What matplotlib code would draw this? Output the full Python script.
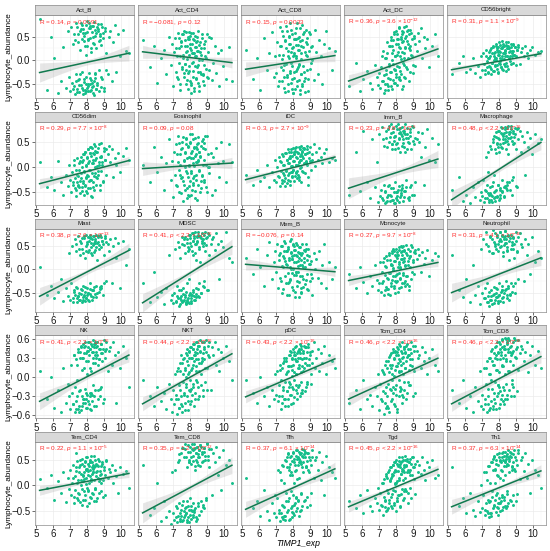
import numpy as np
import matplotlib
import matplotlib.pyplot as plt

matplotlib.use('Agg')

plt.rcParams['font.family'] = ['Liberation Sans', 'DejaVu Sans']
plt.rcParams['mathtext.fontset'] = 'custom'
plt.rcParams['mathtext.rm'] = 'Liberation Sans'
plt.rcParams['mathtext.it'] = 'Liberation Sans:italic'

# TIMP1 expression, one value per sample (same samples in every panel)
timp1_exp = [5.22, 5.63, 5.91, 6.08, 6.31, 6.47, 6.62, 6.79, 6.88, 6.97,
             7.03, 7.09, 7.14, 7.19, 7.24, 7.29, 7.33, 7.36, 7.38, 7.43,
             7.47, 7.52, 7.56, 7.61, 7.64, 7.68, 7.71, 7.74, 7.78, 7.81,
             7.85, 7.88, 7.91, 7.94, 7.97, 7.99, 8.01, 8.04, 8.07, 8.11,
             8.14, 8.17, 8.19, 8.21, 8.24, 8.27, 8.31, 8.34, 8.38, 8.41,
             8.44, 8.46, 8.48, 8.52, 8.55, 8.59, 8.63, 8.67, 8.71, 8.76,
             8.81, 8.84, 8.86, 8.92, 8.97, 9.03, 9.08, 9.15, 9.22, 9.29,
             9.37, 9.46, 9.55, 9.64, 9.73, 9.84, 9.96, 10.12, 10.31, 10.48,
             # core samples
             7.21, 7.27, 7.34, 7.41, 7.45, 7.50, 7.54, 7.58, 7.62, 7.66,
             7.70, 7.73, 7.76, 7.80, 7.83, 7.86, 7.89, 7.92, 7.95, 7.98,
             8.02, 8.05, 8.08, 8.10, 8.13, 8.16, 8.18, 8.22, 8.25, 8.28,
             8.30, 8.33, 8.36, 8.39, 8.42, 8.45, 8.49, 8.51, 8.54, 8.57,
             8.61, 8.65, 8.69, 8.73, 8.78, 8.83, 8.88, 8.94, 9.00, 9.06,
             7.48, 7.79, 7.93, 8.06, 8.20, 8.35, 8.50, 8.64, 8.80, 9.12]

cell_types = ['Act_B', 'Act_CD4', 'Act_CD8', 'Act_DC', 'CD56bright',
              'CD56dim', 'Eosinophil', 'iDC', 'Imm_B', 'Macrophage',
              'Mast', 'MDSC', 'Mem_B', 'Monocyte', 'Neutrophil',
              'NK', 'NKT', 'pDC', 'Tcm_CD4', 'Tcm_CD8',
              'Tem_CD4', 'Tem_CD8', 'Tfh', 'Tgd', 'Th1']

r_values = ['0.14', '\u22120.081', '0.15', '0.36', '0.31',
            '0.29', '0.09', '0.3', '0.23', '0.48',
            '0.38', '0.41', '\u22120.076', '0.27', '0.31',
            '0.41', '0.44', '0.43', '0.46', '0.46',
            '0.22', '0.35', '0.37', '0.45', '0.37']
p_values = ['= 0.0091', '= 0.12', '= 0.0033', '= 3.6 \u00d7 10$^{-12}$', '= 1.1 \u00d7 10$^{-9}$',
            '= 7.7 \u00d7 10$^{-8}$', '= 0.08', '= 2.7 \u00d7 10$^{-9}$', '= 4.8 \u00d7 10$^{-6}$', '< 2.2 \u00d7 10$^{-16}$',
            '= 2.6 \u00d7 10$^{-13}$', '< 2.2 \u00d7 10$^{-16}$', '= 0.14', '= 9.7 \u00d7 10$^{-8}$', '= 4.1 \u00d7 10$^{-10}$',
            '< 2.2 \u00d7 10$^{-16}$', '< 2.2 \u00d7 10$^{-16}$', '< 2.2 \u00d7 10$^{-16}$', '< 2.2 \u00d7 10$^{-16}$', '< 2.2 \u00d7 10$^{-16}$',
            '= 1.1 \u00d7 10$^{-5}$', '= 1.2 \u00d7 10$^{-12}$', '= 6.1 \u00d7 10$^{-14}$', '< 2.2 \u00d7 10$^{-16}$', '= 6.3 \u00d7 10$^{-14}$']

# fitted line read at the lowest and highest TIMP1 value
fit_low = [-0.26, 0.18, -0.19, -0.44, -0.20,
           -0.33, -0.03, -0.25, -0.42, -0.65,
           -0.58, -0.72, 0.11, -0.24, -0.50,
           -0.38, -0.42, -0.31, -0.345, -0.42,
           -0.10, -0.54, -0.47, -0.42, -0.42]
fit_high = [0.15, -0.05, 0.10, 0.24, 0.14,
            0.13, 0.08, 0.20, 0.16, 0.49,
            0.41, 0.49, -0.05, 0.15, 0.25,
            0.35, 0.37, 0.29, 0.30, 0.325,
            0.23, 0.39, 0.32, 0.31, 0.28]

row_ylims = [(-0.80, 0.96), (-0.75, 0.90), (-0.91, 0.88), (-0.65, 0.66), (-0.78, 0.84)]
row_yticks = [[-0.5, 0.0, 0.5], [-0.5, 0.0, 0.5], [-0.5, 0.0, 0.5],
              [-0.6, -0.3, 0.0, 0.3, 0.6], [-0.5, 0.0, 0.5]]
n_samples = 345

# lymphocyte abundance per cell type, in hundredths
act_b = [88, -62, 50, 5, -70, -45, 28, -58, 62, -35,
         -66, 71, -48, 35, -55, -72, 44, -30, 80, -60,
         55, -40, -68, 22, 66, -52, -25, 75, -63, 40,
         -46, 58, -70, 12, -35, 84, -58, 30, -50, 68,
         -28, 47, -65, 72, -42, 18, 60, -55, 36, -74,
         82, -38, 52, -60, 25, 70, -48, 63, -20, 44,
         -56, 76, 33, -40, 58, -66, 69, 15, -30, 50,
         62, -45, 38, 75, -25, 55, 10, 65, 20, 15,
         -60, 55, -45, 70, -68, 38, -52, 62, -30, 78,
         -58, 45, -72, 66, -40, 52, -64, 30, 74, -50,
         60, -66, 42, -55, 80, -38, 68, -62, 25, -48,
         72, -56, 50, -70, 35, -44, 64, -26, 58, -60,
         -52, 76, 40, -65, 55, -35, 70, 48, -58, 62,
         -42, 58, -66, 45, -50, 72, -30, 66, 52, -20]
act_cd4 = [42, -15, 30, -48, 5, 22, -30, 50, -10, 35,
           -55, 18, 48, -25, 8, 58, -40, 27, -5, -62,
           40, -18, 55, 12, -35, 62, -8, 30, -50, 20,
           3, 45, -28, 60, -12, 25, -45, 52, -70, 15,
           35, -22, 58, -3, -58, 42, 10, -38, 28, -15,
           50, -48, 20, 0, -65, 38, -25, 12, 55, -32,
           25, -10, -52, 40, 5, -35, 18, -20, 48, -42,
           -5, 30, -28, 15, -55, 22, -12, -40, 28, -45,
           25, -35, 48, 10, -50, 38, -15, 55, 5, -28,
           42, -8, 60, 18, -42, 30, -60, 50, 12, -22,
           35, -48, 22, 58, -5, -35, 45, 15, -65, 28,
           -12, 52, 8, -40, 40, 20, -25, 62, -55, 32,
           18, -30, 48, 0, -45, 35, 10, -18, 55, -38,
           30, -20, 45, -52, 15, 38, -10, 25, -30, 50]
act_cd8 = [22, -40, 5, -62, 48, -20, 15, 60, -35, 10,
           -28, 38, -55, 12, 70, -15, 30, -45, 2, 52,
           -10, 44, -68, 25, -32, 62, 8, -50, 35, -22,
           78, -5, 18, -40, 55, -70, 28, 10, -25, 45,
           -60, 33, 5, 68, -18, -45, 22, 50, -8, -72,
           40, -30, 15, 75, -55, 28, -12, 60, -38, 12,
           48, -20, 35, -65, 20, 55, -5, 30, -42, 65,
           18, -30, 42, 10, -50, 35, 62, 25, -20, 20,
           -45, 30, 62, -20, 12, -58, 40, -8, 72, -35,
           20, -65, 50, 5, -28, 35, -48, 65, -12, 25,
           -70, 45, 15, -38, 58, -22, 8, -55, 80, 32,
           -15, 48, -42, 22, -62, 68, 2, -30, 42, -50,
           55, -25, 18, -68, 38, 10, -40, 60, -18, 28,
           -35, 52, -60, 12, 45, -10, 30, -45, 65, 0]
act_dc = [-55, -5, -65, -40, -22, -48, -60, -10, -35, -52,
          -28, -58, -15, 10, -45, -70, -32, 5, -50, -20,
          15, -38, -62, -8, 30, -25, 42, -55, 0, -42,
          22, -18, 55, -48, 8, 35, -30, 62, -12, 18,
          45, -40, 28, 70, -22, 10, 50, -60, 38, -5,
          60, 15, -35, 48, 25, 72, -15, 40, 5, 55,
          30, -25, 65, 12, 45, -10, 52, 35, 20, 58,
          40, 68, 5, 50, 25, 45, -15, 30, 55, 10,
          -45, 20, -62, 5, -30, 38, -55, -12, 30, -40,
          50, -25, -60, 15, -8, 42, -48, 60, -20, 8,
          -35, 55, 12, -52, 35, -15, 68, -42, 25, 2,
          45, -30, 62, 18, -55, 40, -10, 70, -38, 28,
          52, -18, 35, 65, -45, 22, 58, 10, -28, 48,
          -50, 30, -20, 45, -35, 55, 5, 62, 25, -12]
cd56bright = [-30, -5, 10, -25, -18, 5, -28, -12, -35, 8,
              -20, 15, -8, -30, 22, -2, -15, 5, -25, 18,
              10, -18, 25, -5, 30, -22, 0, 15, -12, 35,
              5, 22, -10, 28, -28, 12, 38, -5, 18, -15,
              25, 2, 40, -18, 15, 30, -8, 20, 8, -22,
              32, 10, -12, 25, 38, 5, 18, -2, 28, 15,
              20, 35, -5, 12, 28, 8, 22, 32, -8, 18,
              25, 10, 30, 15, 5, 22, 28, 12, 18, 20,
              -20, 10, -28, 5, -12, 22, -30, 15, -5, 28,
              8, -22, 18, -10, 30, 0, -18, 25, 12, -25,
              20, -8, 32, 5, -15, 28, 10, -20, 35, 2,
              15, 30, -12, 22, 38, -5, 25, 8, -18, 30,
              25, 10, 35, -8, 20, 32, 12, 28, -10, 22,
              -15, 5, 18, -2, 25, 15, 30, 20, 8, 28]
cd56dim = [10, -40, -20, -45, 12, -30, -55, -15, -38, 5,
           -25, -50, -10, -35, 15, -42, -22, -58, -5, -30,
           -18, 8, -40, -28, 20, -12, -48, 0, -32, 25,
           -8, -38, 30, -20, 5, -52, 18, -15, 35, -28,
           12, -42, 40, -5, -25, 22, -60, 8, 28, -18,
           45, -12, 15, -35, 30, 2, -22, 38, 10, -45,
           20, -8, 48, 5, -30, 32, 15, -15, 25, 42,
           10, 35, -20, 18, 5, 28, -10, 22, 38, 15,
           -30, 5, -45, -15, 18, -38, -5, -52, 12, -22,
           -40, 10, -28, 25, -55, -10, 30, -35, 2, -48,
           20, -18, 35, -42, -5, 28, -25, 40, -58, 8,
           -12, 38, -30, 15, -45, 25, 0, 42, -20, 18,
           30, -15, 45, 5, -35, 22, 10, -28, 38, 15,
           -35, 15, -22, 8, 28, -40, 32, -8, 20, 35]
eosinophil = [5, -30, 40, -10, 20, -45, 8, 55, -25, 12,
              -60, 30, -15, 45, -38, 10, 62, -5, -50, 25,
              35, -20, 50, -68, 15, -35, 28, 0, 58, -42,
              -12, 40, -55, 20, 5, 48, -28, 65, -8, 32,
              -45, 18, 55, -22, 2, 38, -62, 25, -15, 45,
              10, -35, 60, -8, 30, -50, 22, 42, -18, 5,
              48, -25, 15, 35, -40, 62, 0, -12, 28, -55,
              20, -45, 38, 8, -20, 50, 12, -30, 45, 10,
              -35, 25, 48, -15, 5, -52, 38, -28, 60, 12,
              -45, 30, -8, 55, -62, 18, 42, -20, 2, -38,
              50, -12, 28, -55, 65, 8, -32, 40, -18, 22,
              -48, 58, 10, -25, 35, -65, 15, 48, -5, 30,
              20, -42, 52, -15, 38, -30, 62, 5, -50, 25,
              -22, 45, -58, 18, -35, 40, 12, -28, 55, 0]
idc = [-15, -35, -5, -28, -20, 5, -40, -10, -25, 15,
       -30, 0, -18, 20, -38, -8, 10, -25, 25, -12,
       5, -22, 28, -5, -32, 15, 35, -15, 8, -28,
       22, -10, 30, 2, -20, 38, 12, -5, 25, -18,
       32, 5, -12, 40, 18, -8, 28, 10, -25, 35,
       15, 42, 0, 22, 30, -10, 38, 8, 25, 12,
       35, 5, 28, -35, 18, 40, 12, 25, 45, 2,
       30, 15, 38, 20, 8, 28, 35, 10, 18, 15,
       -20, 12, -32, 5, 22, -15, -38, 28, -8, 15,
       8, -25, 30, -12, 18, -35, 2, 35, -18, 22,
       -5, 25, -28, 12, 38, -10, 20, -22, 30, 5,
       28, -15, 10, 40, -2, 22, -30, 15, 32, -8,
       18, 35, -12, 25, 8, 42, -20, 30, 12, -5,
       -28, 18, -10, 30, 5, -20, 25, 38, 10, 15]
imm_b = [-55, 30, -48, 72, -30, -62, 55, -40, 10, -70,
         65, -58, -45, 80, -66, -35, 42, -72, -50, 58,
         -60, 75, -38, 50, -68, -55, 85, -42, 35, -65,
         70, -50, 60, -72, -30, 45, -62, 82, -58, 38,
         -45, 68, 55, -70, 30, 78, -52, 62, -35, 48,
         72, -60, 40, 85, -48, 58, -25, 66, 50, -65,
         62, -40, 75, 35, -55, 80, 45, -30, 55, 70,
         50, 20, 68, -35, 40, 75, 15, 58, 10, 45,
         -62, 55, -48, 72, -70, 40, -55, 82, -35, 60,
         68, -58, 45, -66, 78, -42, 52, -72, 35, 62,
         -50, 75, -65, 48, 85, -38, 58, -60, 70, -45,
         65, -55, 80, 42, -68, 55, 72, -48, 30, 66,
         -40, 78, 58, -62, 48, 70, -35, 82, 52, -55,
         -68, 45, 62, -50, 75, -42, 68, 35, -60, 58]
macrophage = [-45, -20, -68, -55, -72, -40, -60, -30, -65, -50,
              -58, -25, -70, -45, 20, -62, -35, -52, -10, -66,
              -40, 35, -55, -70, -30, 50, -62, -15, -48, 28,
              60, -58, 45, -35, 72, -65, 30, 55, -42, 68,
              40, -50, 78, -25, 62, 48, -60, 80, -38, 35,
              70, 52, -45, 82, 25, 66, -30, 58, 75, -55,
              45, 68, -20, 60, 78, 35, -40, 55, 72, 30,
              62, 50, -15, 70, 40, 58, 25, 65, 48, 55,
              -62, -48, 30, -70, -55, 42, -66, -38, -58, 55,
              -50, 62, -68, 35, -45, 70, -60, 48, -35, 58,
              72, -55, 45, -62, 80, 38, -48, 66, 55, -40,
              68, -58, 75, 50, -42, 62, 78, -30, 58, 45,
              70, -45, 82, 60, -25, 72, 48, 65, -38, 76,
              -52, -60, 40, -45, 65, 55, -35, 70, 52, 78]
mast = [5, -55, -35, -62, -48, -20, -68, -40, -58, 35,
        -65, -30, 50, -70, -45, 65, -55, -38, 40, -62,
        72, -50, -66, 30, -42, 58, -70, 45, -35, -58,
        68, -48, 25, -62, 75, -40, 55, -55, 38, -68,
        62, -30, 70, -52, 48, 35, -65, 72, -45, 58,
        -38, 66, 42, -60, 75, 20, -50, 60, 52, -42,
        70, -35, 48, 62, -55, 30, 72, -25, 55, 40,
        65, -30, 50, 68, 25, 58, -40, 62, 10, 45,
        -62, -48, 55, -70, -40, -58, 45, -66, 62, -52,
        -45, 68, -60, 35, -55, 72, -68, -38, 50, -62,
        60, -50, 70, -65, 42, -42, 75, 58, -58, 30,
        65, -45, 52, -60, 72, 38, -52, 62, 48, -35,
        58, 70, -48, 45, 75, -40, 62, 55, -30, 68,
        -58, -65, 40, -50, 68, -45, 58, 72, -38, 60]
mdsc = [-30, -70, -5, -60, -48, -75, -40, 30, -65, -55,
        -72, -50, 45, -68, -35, -62, 60, -78, -45, 25,
        -58, 70, -70, -40, 52, -66, -55, 35, -75, -30,
        65, -62, 48, -72, -20, 75, -50, 58, -68, 40,
        -55, 78, 30, -45, 68, -65, 55, 20, -40, 72,
        60, -58, 80, 45, -30, 70, 15, -50, 62, 50,
        75, -25, 58, 40, 68, -45, 78, 30, 55, 65,
        70, 42, 78, 55, -20, 62, 48, 80, 25, 15,
        -70, -58, 48, -75, -62, -45, 55, -68, -52, 65,
        -60, 70, -72, -48, 58, -65, 40, -70, 75, -55,
        68, -62, 50, -72, 78, -48, 62, -58, 72, 35,
        -65, 80, 55, -52, 70, 62, -42, 75, 48, -60,
        72, -50, 78, 58, 65, -38, 80, 52, 70, -45,
        -66, -70, 45, -55, 62, -60, 72, 68, -35, 75]
mem_b = [25, -10, 45, 5, -35, 30, 60, -20, 15, 40,
         -5, 55, -40, 20, 35, -25, 50, 8, -50, 28,
         62, -15, 18, 40, -55, 10, 48, -30, 25, 5,
         -20, 38, 65, -8, 22, -45, 52, 0, 30, -60,
         42, -12, 15, 58, -35, 28, -5, 48, -28, 10,
         35, -48, 20, -15, 55, 5, -38, 25, 40, -22,
         -10, 30, -42, 45, 12, -25, 18, -55, 35, 0,
         22, -18, 40, -30, 10, 55, -40, 15, -20, 5,
         32, -18, 50, 5, -42, 25, 58, -30, 12, 40,
         -8, 45, -55, 20, 62, -22, 35, 0, -38, 28,
         55, -12, 15, 42, -48, 30, -5, 52, -25, 18,
         8, 38, -60, 25, 48, -15, 30, -40, 10, 35,
         -20, 42, 5, -32, 55, 20, -45, 28, 12, -10,
         40, -28, 22, 50, -5, 35, -50, 15, 45, -18]
monocyte = [-10, -40, 5, -28, -50, -15, -35, 10, -22, -45,
            -30, 15, -48, -5, -25, 25, -55, -12, 8, -38,
            20, -20, -42, 30, -8, -55, 12, -30, 35, -15,
            -2, 40, -35, 18, -50, 28, -12, 45, -25, 5,
            32, -40, 15, 48, -18, 2, 38, -30, 22, 50,
            -8, 42, 25, -35, 10, 52, -15, 30, 18, -45,
            40, 5, 28, -20, 48, 15, -10, 35, 22, 45,
            30, -5, 38, 12, 25, 42, -15, 20, 35, 28,
            -30, 15, -45, 5, 28, -18, -52, 35, -8, 20,
            10, -35, 40, -22, 2, 45, -40, 18, -15, 30,
            -28, 38, -10, 25, -48, 12, 42, -20, 5, 50,
            22, -38, 32, 48, -12, 15, -30, 40, 8, -25,
            35, -15, 45, 10, -35, 28, 52, -5, 20, 38,
            -42, 10, -25, 30, -8, 40, 18, -32, 25, 42]
neutrophil = [30, -45, -60, -20, -70, 10, -55, -35, -75, 45,
              -50, 65, -62, -40, 80, -70, -30, 50, -58, -78,
              70, -45, -65, 35, -55, 85, -38, -72, 55, -50,
              -60, 75, -42, 40, -68, 62, -30, -55, 80, -48,
              50, -62, 72, -35, 28, -70, 65, -45, 82, -25,
              58, -55, 40, 75, -40, 20, -65, 68, -30, 52,
              45, -35, 70, 25, -50, 62, 38, -20, 78, 55,
              48, -25, 65, 30, 55, -10, 70, 15, 40, 25,
              -62, 55, -70, 40, -48, 72, -58, 65, -75, 35,
              60, -52, 78, -65, 45, -40, 70, -60, 55, -72,
              -55, 80, 48, -68, 62, -45, 75, 38, -60, 52,
              70, -50, 58, 82, -42, 65, -62, 48, 72, -35,
              62, -55, 75, 45, -48, 68, 55, -30, 80, 40,
              -66, 50, -58, 65, -45, 72, 42, -52, 60, 70]
nk = [10, -35, 0, -48, -20, -55, 15, -40, -10, -30,
      -50, 20, -25, -42, 35, -55, -15, 28, -38, -5,
      40, -45, -22, 30, -52, 48, -30, 12, -40, 38,
      -35, 50, -18, 25, -48, 42, 5, -28, 55, -42,
      35, -50, 45, 15, -25, 52, -38, 30, -12, 48,
      -30, 55, 22, 40, -45, 35, 50, -20, 28, 45,
      38, -15, 52, 25, 45, -35, 30, 55, 10, 42,
      48, 20, 55, 35, -40, 40, 15, 50, 30, -15,
      -42, 35, -50, 20, -30, 45, -55, 40, -20, 50,
      30, -45, 52, -35, 15, 48, -40, 55, -25, 38,
      -48, 42, 25, -38, 55, -30, 45, 10, -52, 50,
      40, -28, 58, 22, -45, 52, 35, -20, 48, 30,
      55, -35, 45, 28, -18, 52, 38, -40, 58, 42,
      -50, 30, -35, 48, -25, 40, 52, 20, -30, 45]
nkt = [-5, -30, -45, -15, -38, -25, -50, -10, -35, -55,
       -20, -42, 5, -28, -58, 15, -35, -12, -48, 10,
       -30, 22, -45, -8, 30, -25, -52, 12, -15, 35,
       25, -38, 5, 40, -20, 48, -5, -42, 30, 15,
       -28, 45, 20, -10, 52, 35, -35, 28, 10, 55,
       38, -15, 50, 22, -30, 42, 58, 5, 30, -20,
       45, 28, 55, -8, 40, 15, 50, 32, -20, 48,
       35, 55, 20, 45, 10, 40, 30, 50, 25, -5,
       -35, 10, -48, 22, -20, 35, -55, 5, 28, -28,
       15, -40, 38, -10, 45, -30, 20, -52, 8, 42,
       -22, 48, 12, -38, 30, 52, -15, 25, -45, 40,
       35, -25, 55, 18, -8, 45, -35, 28, 50, 10,
       40, -12, 55, 25, -30, 48, 15, 58, -20, 35,
       -42, 0, 30, -18, 45, -5, 50, 22, 38, 55]
pdc = [-5, -25, -40, 0, -30, -15, -45, -20, -35, 5,
       -28, 10, -38, -12, 20, -50, -5, 15, -30, -20,
       25, -35, -8, 30, -22, 8, -45, 18, -15, 35,
       -10, 40, -28, 12, 30, -40, 20, 45, -5, 28,
       35, -20, 50, 5, -35, 25, 42, -12, 15, 52,
       30, -8, 45, 18, -25, 38, 10, 50, 22, -15,
       40, 20, -10, 48, 28, 35, 5, 42, 55, 15,
       30, 45, 10, 38, 22, 50, 5, 35, 25, 15,
       -30, 12, -40, 22, -15, 30, -45, 5, 25, -22,
       10, -35, 35, -8, 42, -28, 18, -42, 28, 2,
       -18, 40, 8, -32, 48, -12, 25, 38, -25, 15,
       30, -15, 45, 20, -30, 38, 8, 50, -20, 28,
       42, 15, -22, 48, 30, -8, 52, 20, 40, -10,
       -35, 18, -15, 35, 5, 42, -25, 30, 48, 22]
tcm_cd4 = [-40, -20, -50, -5, -35, -28, -45, -15, -30, 5,
           -52, -10, -35, 12, -22, -58, 5, -40, 20, -15,
           -30, 25, -48, 8, -18, 35, -38, 15, -5, 40,
           -25, 30, 2, -45, 42, 18, -12, 35, -55, 22,
           45, -30, 28, 10, -15, 50, 20, -40, 38, 5,
           32, -20, 48, 15, 40, -35, 25, 52, -8, 35,
           20, 45, -12, 38, 28, 50, 10, -25, 42, 30,
           35, 15, 48, 25, 40, 5, 30, 45, 20, 10,
           -38, 8, -25, 25, -48, 15, -10, 32, -55, 20,
           -20, 38, 5, -35, 45, -15, 28, -42, 12, 40,
           -28, 48, 18, -50, 35, -5, 52, -22, 25, 10,
           42, -18, 30, 55, -32, 22, 48, -8, 38, 15,
           50, -25, 35, 45, -12, 28, 55, 18, -30, 42,
           -45, 20, -18, 40, 8, -28, 45, 32, 12, 50]
tcm_cd8 = [-20, -40, -5, -48, -30, -55, -15, -38, 10, -45,
           -28, -50, 15, -35, -10, -55, 25, -42, -18, 5,
           30, -38, -5, 45, -50, 20, -25, 38, -40, 12,
           50, -30, 28, -12, 40, -48, 55, 8, -22, 35,
           -35, 48, 18, 58, -15, 30, -42, 45, 5, 60,
           25, 52, -28, 40, 62, 10, -20, 48, 35, -10,
           55, 20, 42, -30, 58, 30, 48, 12, 38, 50,
           45, 25, 40, 55, 8, 35, 50, 20, 42, 15,
           -42, 15, -30, 30, -52, 5, 42, -18, 25, -45,
           20, -35, 48, -8, 35, -50, 12, 55, -25, 38,
           -15, 52, 28, -42, 40, -28, 60, 18, -38, 45,
           50, -20, 35, 62, -10, 28, 55, -35, 45, 10,
           58, 25, -30, 50, 38, -15, 62, 32, 45, -22,
           -48, 30, -12, 45, 20, -35, 55, 40, -5, 58]
tem_cd4 = [12, -5, 20, -28, 8, -15, 25, -32, 15, -8,
           30, -20, 5, 40, -35, 18, -10, 28, 62, -25,
           10, 35, -18, 50, 0, 22, -38, 42, 8, -12,
           25, 48, -28, 15, 55, -5, 32, -40, 20, 38,
           5, 45, -22, 30, 58, 12, -15, 40, 25, -30,
           35, 50, -8, 18, 42, -25, 28, 52, 8, 20,
           -12, 38, 22, 45, 10, 30, -20, 48, 15, 32,
           25, 40, 5, 30, 18, -15, 35, 22, 28, -5,
           15, -22, 35, 5, 48, -15, 25, -32, 40, 10,
           -8, 52, 20, -28, 38, 12, -20, 45, 2, 30,
           55, -12, 28, 42, -35, 18, 50, 8, -25, 35,
           22, 45, -18, 32, 10, 58, -8, 38, 25, -30,
           40, 15, -15, 48, 28, 5, 42, -22, 35, 20,
           -28, 18, 32, -10, 45, 25, -5, 38, 12, 50]
tem_cd8 = [40, -58, -45, 5, -70, -30, -62, -50, -75, 25,
           -55, -68, 30, -40, -72, 45, -60, -35, 60, -65,
           -48, 72, -70, -30, 55, -62, -45, 80, -55, 35,
           -68, 65, -40, 50, -72, -25, 75, -58, 42, -50,
           70, -62, 58, -35, 80, -48, 30, 62, -70, 45,
           75, -40, 55, 68, -58, 38, 78, -30, 60, 48,
           65, -45, 72, 50, -25, 80, 58, 35, 70, -20,
           62, 45, 75, 20, 55, -10, 68, 40, 50, 5,
           -62, -45, 50, -70, -55, 62, -38, -68, 72, -50,
           -58, 70, -42, 55, -72, -30, 78, -62, 45, -48,
           65, -66, 55, -40, 80, -58, 48, 70, -52, 38,
           72, -45, 62, 50, -65, 75, 40, -35, 68, 55,
           78, -50, 65, 45, -42, 72, 58, -28, 82, 50,
           -60, -55, 45, -48, 68, -62, 60, 75, -38, 70]
tfh = [15, -45, -30, -60, -10, -50, -68, -35, -55, -20,
       -62, -25, 30, -48, -70, 10, -55, 40, -38, -65,
       -42, 50, -60, -15, 35, -52, 62, -30, -68, 20,
       55, -45, 25, -62, 48, -20, 65, -55, 5, 40,
       -35, 58, 30, -50, 68, 12, -28, 52, -60, 45,
       60, -15, 42, 70, -40, 25, 55, -30, 65, 35,
       48, -22, 62, 30, 55, -38, 40, 68, 15, 50,
       55, 30, 65, 10, 45, -20, 58, 35, 25, 15,
       -55, 25, -62, 38, -40, 5, -68, 48, -30, 55,
       -48, 60, -25, 35, -65, 42, -12, 58, -52, 20,
       62, -38, 45, -58, 28, 68, -22, 52, -45, 40,
       55, -30, 65, 15, -50, 48, 62, -18, 35, 58,
       45, 68, -28, 55, 38, -42, 62, 25, 50, -15,
       -60, 30, -40, 52, -25, 45, -48, 60, 35, 55]
tgd = [-30, -45, -20, -55, -10, -40, -50, -25, -35, -5,
       -48, -15, -38, 5, -58, -22, 12, -42, -30, 18,
       -10, -45, 25, -28, 8, 35, -40, 15, -18, 40,
       20, -35, 45, -12, 30, -50, 5, 50, -25, 28,
       38, -20, 55, 10, -40, 42, 22, -8, 48, 30,
       50, -25, 35, 15, 58, -12, 40, 25, -35, 45,
       30, 52, -5, 42, 20, 55, 35, -18, 48, 25,
       40, 22, 55, 30, 10, 45, 35, 50, 15, 20,
       -40, 5, -28, 22, -50, 15, -15, 30, -35, 10,
       -22, 35, -45, 18, 40, -10, 25, -38, 45, 2,
       28, -30, 42, 8, -20, 48, 15, -42, 35, 22,
       45, -18, 32, 55, 10, -28, 40, 25, 50, -8,
       38, 52, -15, 30, 45, 20, -25, 55, 35, 12,
       -48, 22, 5, -30, 40, 28, -12, 48, 25, 42]
th1 = [35, -40, -25, -55, -15, -48, -60, -30, -52, 0,
       -45, -20, 25, -58, -35, 10, -50, 38, -28, -62,
       -30, 45, -55, -12, 30, -45, 55, -38, 5, -20,
       50, -42, 20, -58, 40, -25, 62, -35, 15, 45,
       -30, 55, 28, -48, 65, 10, -22, 48, -40, 38,
       58, -18, 42, 68, -35, 25, 52, -28, 62, 30,
       45, -20, 60, 32, 55, -30, 40, 68, 12, 50,
       55, 28, 62, 15, 42, -15, 50, 30, 20, -5,
       -48, 25, -55, 38, -32, 5, -60, 45, -22, 52,
       -40, 58, -28, 30, -52, 42, -15, 60, -45, 18,
       55, -35, 48, -50, 30, 62, -20, 50, -42, 38,
       58, -28, 65, 20, -45, 52, 60, -12, 40, 55,
       48, 65, -30, 55, 35, -38, 68, 28, 50, -18,
       -55, 32, -35, 50, -22, 45, -40, 58, 38, 62]

abundances = [act_b, act_cd4, act_cd8, act_dc, cd56bright,
              cd56dim, eosinophil, idc, imm_b, macrophage,
              mast, mdsc, mem_b, monocyte, neutrophil,
              nk, nkt, pdc, tcm_cd4, tcm_cd8,
              tem_cd4, tem_cd8, tfh, tgd, th1]

point_color = '#14BF8A'
line_color = '#10794E'

W, H = 550, 551
fig = plt.figure(figsize=(W / 100, H / 100), dpi=100)

col_left = 34.5
col_step = 103.0
panel_w = 99.5
row_top = 15.0
row_step = 106.8
panel_h = 83.0
strip_h = 10.0

x = np.array(timp1_exp)
x_fit = np.linspace(x.min(), x.max(), 100)

for i, name in enumerate(cell_types):
    r, c = divmod(i, 5)
    left = col_left + c * col_step
    top = row_top + r * row_step
    ax = fig.add_axes([left / W, 1 - (top + panel_h) / H, panel_w / W, panel_h / H])
    y = np.array(abundances[i]) / 100.0

    ax.scatter(x, y, s=4.5, color=point_color, linewidths=0, zorder=2)

    # regression line and 95% band
    slope = (fit_high[i] - fit_low[i]) / (x.max() - x.min())
    line = fit_low[i] + slope * (x_fit - x.min())
    resid = y - (fit_low[i] + slope * (x - x.min()))
    s = resid.std()
    sxx = n_samples * x.var()
    se = s * np.sqrt(1 / n_samples + (x_fit - x.mean()) ** 2 / sxx)
    ax.fill_between(x_fit, line - 1.97 * se, line + 1.97 * se,
                    color='#A6A6A6', alpha=0.28, linewidth=0, zorder=3)
    ax.plot(x_fit, line, color=line_color, linewidth=1.1, zorder=4)

    ax.text(0.05, 0.915, 'R = ' + r_values[i] + ', $\\mathit{p}$ ' + p_values[i],
            transform=ax.transAxes, color='#FF2D2D', fontsize=4.6,
            ha='left', va='center', zorder=5)

    ax.set_xlim(4.92, 10.78)
    ax.set_ylim(*row_ylims[r])
    ax.set_xticks([5, 6, 7, 8, 9, 10])
    ax.set_xticks(np.arange(5.5, 10.6, 1.0), minor=True)
    yt = row_yticks[r]
    ax.set_yticks(yt)
    ax.set_yticks([(a + b) / 2 for a, b in zip(yt[:-1], yt[1:])], minor=True)
    ax.grid(True, which='major', color='#EBEBEB', linewidth=0.5)
    ax.grid(True, which='minor', color='#F3F3F3', linewidth=0.3)
    ax.set_axisbelow(True)
    for sp in ax.spines.values():
        sp.set_color('#8C8C8C')
        sp.set_linewidth(0.5)
    ax.tick_params(which='major', direction='out', length=2, width=0.5,
                   color='#333333', labelsize=7, pad=1, labelcolor='#1A1A1A')
    ax.tick_params(which='minor', length=0)
    if c == 0:
        ax.set_yticklabels([('%.1f' % v).replace('-', '\u2212') for v in yt])
        ax.set_ylabel('Lymphocyte_abundance', fontsize=5.9)
        ax.yaxis.set_label_coords(-0.225, 0.5)
    else:
        ax.tick_params(axis='y', left=False, labelleft=False)

    # facet strip
    sax = fig.add_axes([left / W, 1 - top / H, panel_w / W, strip_h / H])
    sax.set_facecolor('#D9D9D9')
    sax.set_xticks([])
    sax.set_yticks([])
    for sp in sax.spines.values():
        sp.set_color('#8C8C8C')
        sp.set_linewidth(0.5)
    sax.text(0.5, 0.5, name, transform=sax.transAxes, ha='center', va='center',
             fontsize=4.4, color='#1A1A1A')

fig.text(298 / W, 1 - 543 / H, 'TIMP1_exp', fontsize=6.2, style='italic',
         ha='center', va='center')

fig.savefig('out.png', dpi=100)
